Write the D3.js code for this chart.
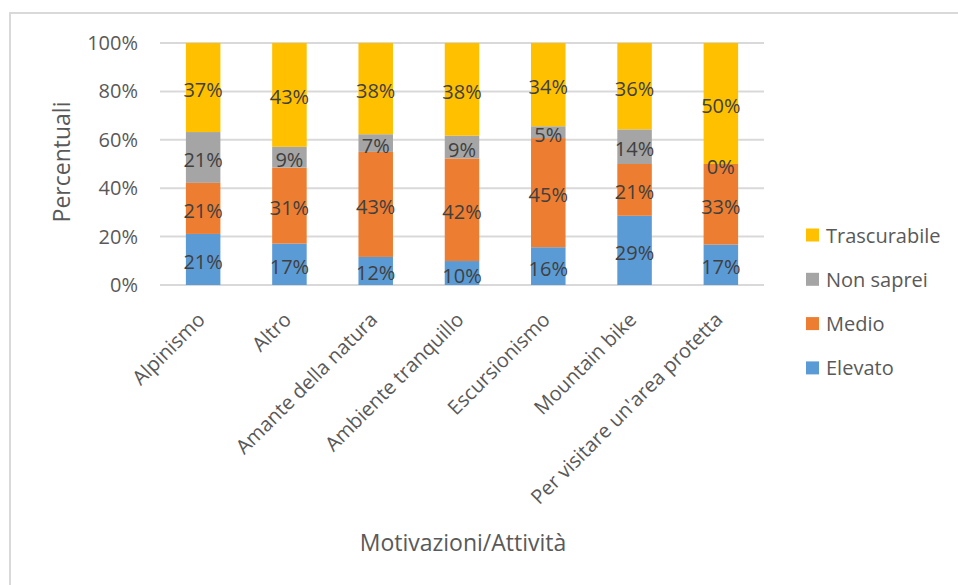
<!doctype html>
<meta charset="utf-8" />
<style>
    body {
        margin: 0;
        background: white;
    }
    text {
        font-family: "Open Sans", "Noto Sans", sans-serif;
    }
</style>
<svg></svg>

<script src="https://cdn.jsdelivr.net/npm/d3@7/dist/d3.min.js"></script>
<script>
    // categorie e serie (percentuali)
    var categories = ['Alpinismo', 'Altro', 'Amante della natura', 'Ambiente tranquillo',
        'Escursionismo', 'Mountain bike', "Per visitare un'area protetta"];
    var elevato = [21.1, 17.1, 11.6, 9.9, 15.6, 28.6, 16.7];
    var medio = [21.1, 31.4, 43.4, 42.4, 45.1, 21.4, 33.3];
    var nonSaprei = [21.0, 8.6, 7.3, 9.4, 4.9, 14.3, 0];
    var trascurabile = [36.8, 42.9, 37.7, 38.3, 34.4, 35.7, 50.0];
    var seriesNames = ['Elevato', 'Medio', 'Non saprei', 'Trascurabile'];
    var seriesColors = ['#5B9BD5', '#ED7D31', '#A5A5A5', '#FFC000'];
    var yTicks = [0, 20, 40, 60, 80, 100];

    var W = 958, H = 585;
    var svg = d3.select('svg')
        .attr('width', W)
        .attr('height', H)

    // bordo del grafico (solo lati visibili)
    svg.append('path')
        .attr('d', 'M10,' + H + 'V13H' + W)
        .style('fill', 'none')
        .style('stroke', '#D9D9D9')
        .style('stroke-width', 2)

    var table = categories.map(function (c, i) {
        return {
            cat: c,
            'Elevato': elevato[i],
            'Medio': medio[i],
            'Non saprei': nonSaprei[i],
            'Trascurabile': trascurabile[i]
        };
    });
    var stack = d3.stack().keys(seriesNames)(table);

    var x = d3.scaleBand()
        .domain(categories)
        .range([160, 764])
        .paddingInner(0.6)
        .paddingOuter(0.3)

    var y = d3.scaleLinear()
        .domain([0, 100])
        .range([285, 43])

    var color = d3.scaleOrdinal().domain(seriesNames).range(seriesColors);

    // griglia
    svg.append('g')
        .selectAll('line')
        .data(yTicks)
        .join('line')
        .attr('x1', 160)
        .attr('x2', 764)
        .attr('y1', d => y(d))
        .attr('y2', d => y(d))
        .style('stroke', '#D9D9D9')
        .style('stroke-width', 2)

    // asse y
    var yAxis = svg.append('g')
        .attr('transform', 'translate(138,0)')
        .call(d3.axisLeft(y).tickValues(yTicks).tickFormat(d => d + '%').tickSize(0).tickPadding(0))
    yAxis.select('.domain').remove()
    yAxis.selectAll('text')
        .style('font-size', '20px')
        .style('fill', '#595959')

    // barre
    var groups = svg.append('g')
        .selectAll('g')
        .data(stack)
        .join('g')
        .style('fill', d => color(d.key))

    groups.selectAll('rect')
        .data(d => d)
        .join('rect')
        .attr('x', d => x(d.data.cat))
        .attr('width', x.bandwidth())
        .attr('y', d => y(d[1]))
        .attr('height', d => y(d[0]) - y(d[1]))

    // etichette dati
    var labels = svg.append('g')
    stack.forEach(function (s) {
        labels.selectAll(null)
            .data(s)
            .join('text')
            .attr('x', d => x(d.data.cat) + x.bandwidth() / 2)
            .attr('y', d => y((d[0] + d[1]) / 2) + 2)
            .attr('text-anchor', 'middle')
            .attr('dominant-baseline', 'central')
            .style('font-size', '20px')
            .style('fill', '#404040')
            .text(d => Math.round(d[1] - d[0]) + '%')
    });

    // etichette asse x ruotate
    svg.append('g')
        .selectAll('text')
        .data(categories)
        .join('text')
        .attr('transform', d => 'translate(' + (x(d) + x.bandwidth() / 2 + 3) + ',321) rotate(-45)')
        .attr('text-anchor', 'end')
        .style('font-size', '20px')
        .style('fill', '#595959')
        .text(d => d)

    // titoli assi
    svg.append('text')
        .attr('transform', 'translate(70,162) rotate(-90)')
        .attr('text-anchor', 'middle')
        .style('font-size', '23px')
        .style('fill', '#595959')
        .text('Percentuali')

    svg.append('text')
        .attr('x', 463)
        .attr('y', 551)
        .attr('text-anchor', 'middle')
        .style('font-size', '23px')
        .style('fill', '#595959')
        .text('Motivazioni/Attività')

    // legenda
    var legendRows = [3, 2, 1, 0];
    var legend = svg.append('g')
        .selectAll('g')
        .data(legendRows)
        .join('g')
        .attr('transform', (d, i) => 'translate(806,' + (235 + i * 44.3) + ')')

    legend.append('rect')
        .attr('y', -6.5)
        .attr('width', 13)
        .attr('height', 13)
        .style('fill', d => seriesColors[d])

    legend.append('text')
        .attr('x', 20)
        .attr('dominant-baseline', 'central')
        .style('font-size', '20px')
        .style('fill', '#595959')
        .text(d => seriesNames[d])
</script>
